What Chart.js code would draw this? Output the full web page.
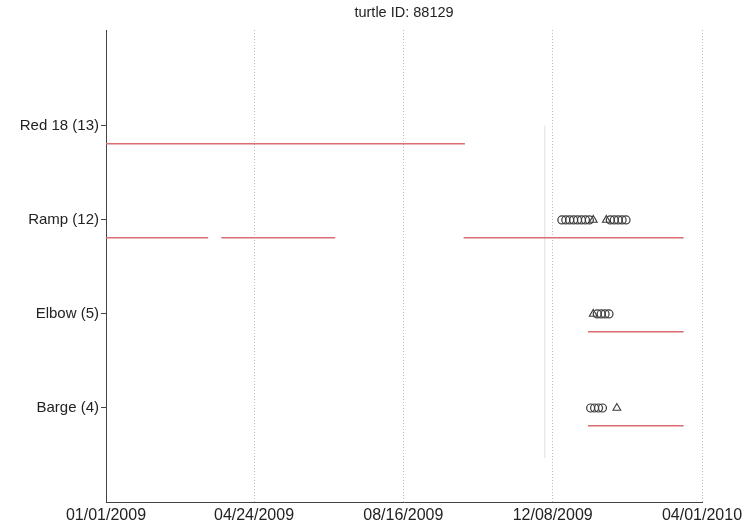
<!DOCTYPE html>
<html lang="en">
<head>
  <meta charset="UTF-8">
  <title>turtle ID: 88129</title>
  <script src="https://cdn.jsdelivr.net/npm/chart.js"></script>
  <style>
    html, body { margin: 0; padding: 0; background: #fff; }
    #wrap { width: 754px; height: 527px; }
  </style>
</head>
<body>
  <div id="wrap"><canvas id="grafico"></canvas></div>

  <script>
    // receivers, bottom to top
    const receivers = ['Barge (4)', 'Elbow (5)', 'Ramp (12)', 'Red 18 (13)'];
    const tickDates = ['2009-01-01', '2009-04-24', '2009-08-16', '2009-12-08', '2010-04-01'];
    const tickLabels = ['01/01/2009', '04/24/2009', '08/16/2009', '12/08/2009', '04/01/2010'];
    const titulo = 'turtle ID: 88129';

    // receiver deployment periods (red lines)
    const bargeDeploy = [['2010-01-04', '2010-03-18']];
    const elbowDeploy = [['2010-01-04', '2010-03-18']];
    const rampDeploy = [['2009-01-01', '2009-03-20'], ['2009-03-30', '2009-06-25'], ['2009-10-01', '2010-03-18']];
    const red18Deploy = [['2009-01-01', '2009-10-02']];

    // detections (circles) and triangles
    const bargeCircles = ['2010-01-06', '2010-01-09', '2010-01-12', '2010-01-15'];
    const bargeTriangles = ['2010-01-26'];
    const elbowCircles = ['2010-01-11', '2010-01-14', '2010-01-17', '2010-01-20'];
    const elbowTriangles = ['2010-01-08'];
    const rampCircles = ['2009-12-15', '2009-12-18', '2009-12-21', '2009-12-24', '2009-12-27', '2009-12-30',
                         '2010-01-02', '2010-01-05', '2010-01-21', '2010-01-24', '2010-01-27', '2010-01-30', '2010-02-02'];
    const rampTriangles = ['2010-01-08', '2010-01-18'];
    const red18Circles = [];

    // faint vertical marker
    const markerDate = '2009-12-02';
    const markerRange = [0.47, 4];

    const dayOf = s => {
      const p = s.split('-').map(Number);
      return (Date.UTC(p[0], p[1] - 1, p[2]) - Date.UTC(2009, 0, 1)) / 86400000;
    };

    const lineOffset = 0.19;
    const datasets = [];

    const deploys = [bargeDeploy, elbowDeploy, rampDeploy, red18Deploy];
    deploys.forEach((periods, i) => {
      periods.forEach(per => {
        datasets.push({
          data: [{ x: dayOf(per[0]), y: i + 1 - lineOffset }, { x: dayOf(per[1]), y: i + 1 - lineOffset }],
          showLine: true,
          borderColor: '#d96d73',
          borderWidth: 1.5,
          pointRadius: 0
        });
      });
    });

    datasets.push({
      data: markerRange.map(v => ({ x: dayOf(markerDate), y: v })),
      showLine: true,
      borderColor: 'rgba(190,190,190,0.5)',
      borderWidth: 1,
      pointRadius: 0
    });

    const circles = [bargeCircles, elbowCircles, rampCircles, red18Circles];
    const triangles = [bargeTriangles, elbowTriangles, rampTriangles, []];
    circles.forEach((arr, i) => {
      datasets.push({
        data: arr.map(d => ({ x: dayOf(d), y: i + 1 })),
        pointStyle: 'circle',
        pointRadius: 4,
        pointBorderColor: '#3a3a3a',
        pointBackgroundColor: 'rgba(0,0,0,0)',
        pointBorderWidth: 1.2
      });
    });
    triangles.forEach((arr, i) => {
      datasets.push({
        data: arr.map(d => ({ x: dayOf(d), y: i + 1 })),
        pointStyle: 'triangle',
        pointRadius: 4.5,
        pointBorderColor: '#3a3a3a',
        pointBackgroundColor: 'rgba(0,0,0,0)',
        pointBorderWidth: 1.1
      });
    });

    const fuente = 'Arial, "Liberation Sans", sans-serif';
    const tickDays = tickDates.map(dayOf);

    // title centred over the axes box
    const tituloPlugin = {
      id: 'tituloPlugin',
      afterDraw(chart) {
        const ctx = chart.ctx;
        const area = chart.chartArea;
        ctx.save();
        ctx.font = '14.5px ' + fuente;
        ctx.fillStyle = '#222';
        ctx.textAlign = 'center';
        ctx.textBaseline = 'middle';
        ctx.fillText(titulo, (area.left + area.right) / 2, 13);
        ctx.restore();
      }
    };

    new Chart(document.getElementById('grafico'), {
      type: 'scatter',
      data: { datasets: datasets },
      plugins: [tituloPlugin],
      options: {
        responsive: true,
        maintainAspectRatio: false,
        animation: false,
        layout: { padding: { left: 0, right: 52, top: 30, bottom: 0 } },
        plugins: {
          legend: { display: false },
          tooltip: { enabled: false },
          title: { display: false }
        },
        scales: {
          x: {
            type: 'linear',
            min: tickDays[0],
            max: tickDays[tickDays.length - 1],
            afterBuildTicks: scale => { scale.ticks = tickDays.map(v => ({ value: v })); },
            afterFit: scale => { scale.height = 25; },
            ticks: {
              color: '#222',
              font: { family: fuente, size: 16 },
              padding: 4,
              maxRotation: 0,
              autoSkip: false,
              callback: (v) => tickLabels[tickDays.indexOf(v)]
            },
            grid: { color: '#bbb', drawTicks: false, lineWidth: 1 },
            border: { display: true, color: '#444', width: 1, dash: [1, 2] }
          },
          y: {
            type: 'linear',
            min: 0,
            max: 5.02,
            afterBuildTicks: scale => { scale.ticks = receivers.map((r, i) => ({ value: i + 1 })); },
            afterFit: scale => { scale.width = 106; },
            ticks: {
              color: '#222',
              font: { family: fuente, size: 15 },
              padding: 2,
              callback: (v) => receivers[v - 1]
            },
            grid: { drawOnChartArea: false, drawTicks: true, tickLength: 5, color: '#444' },
            border: { display: true, color: '#444', width: 1 }
          }
        }
      }
    });
  </script>
</body>
</html>
